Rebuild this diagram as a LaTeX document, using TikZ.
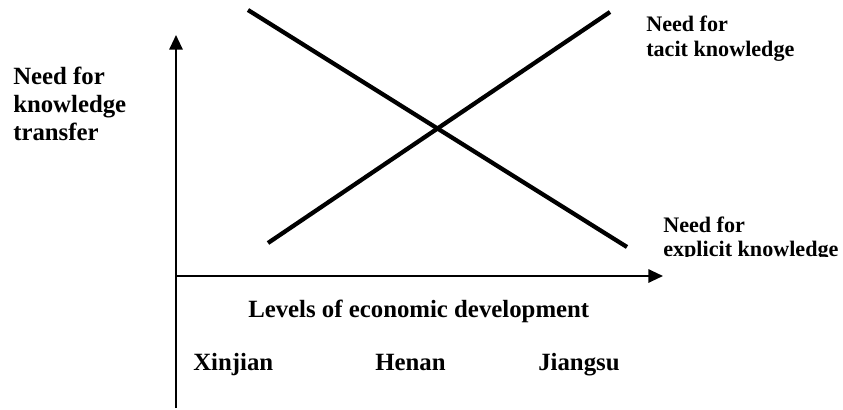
\documentclass[tikz,border=0pt]{standalone}
\usepackage{fontspec}
\setmainfont{Liberation Serif}
\usepackage{tikz}
\usetikzlibrary{arrows.meta, positioning, calc}
\tikzset{
  axisline/.style={line width=1.5pt, -{Triangle[length=11pt, width=10pt]}},
  trendline/.style={line width=3.2pt},
  biglabel/.style={font=\fontsize{18.6}{21}\selectfont\bfseries, inner sep=0pt, anchor=base west},
  smalllabel/.style={font=\fontsize{16.6}{19}\selectfont\bfseries, inner sep=0pt, anchor=base west},
}
\begin{document}
\begin{tikzpicture}[x=0.75pt, y=-0.75pt]
  \useasboundingbox (0,0) rectangle (843,410);

  % Axes
  \coordinate (origin) at (176,276);
  \coordinate (ybot) at (176,408);
  \coordinate (ytip) at (176,35);
  \coordinate (xtip) at (663,276);
  \draw[axisline] (ybot) -- (ytip);
  \draw[axisline] (origin) -- (xtip);

  % Trend lines
  \coordinate (tacitlo) at (268,243);
  \coordinate (tacithi) at (610,12);
  \coordinate (explhi) at (248,10);
  \coordinate (expllo) at (627,247);
  \draw[trendline] (tacitlo) -- (tacithi);
  \draw[trendline] (explhi) -- (expllo);

  % Axis labels
  \node[biglabel] (yl1) at (13,85) {Need for};
  \node[biglabel] (yl2) at (13,113) {knowledge};
  \node[biglabel] (yl3) at (13,141) {transfer};
  \node[biglabel] (xlabel) at (248,317) {Levels of economic development};

  % Provinces
  \node[biglabel] (xin) at (193,370) {Xinjian};
  \node[biglabel] (hen) at (375,370) {Henan};
  \node[biglabel] (jia) at (538,370) {Jiangsu};

  % Curve labels
  \node[smalllabel] (tac1) at (646,32) {Need for};
  \node[smalllabel] (tac2) at (646,57) {tacit knowledge};
  \begin{scope}
    \clip (640,200) rectangle (843,256);
    \node[smalllabel] (exp1) at (663,232) {Need for};
    \node[smalllabel] (exp2) at (663,256) {explicit knowledge};
  \end{scope}
\end{tikzpicture}
\end{document}
